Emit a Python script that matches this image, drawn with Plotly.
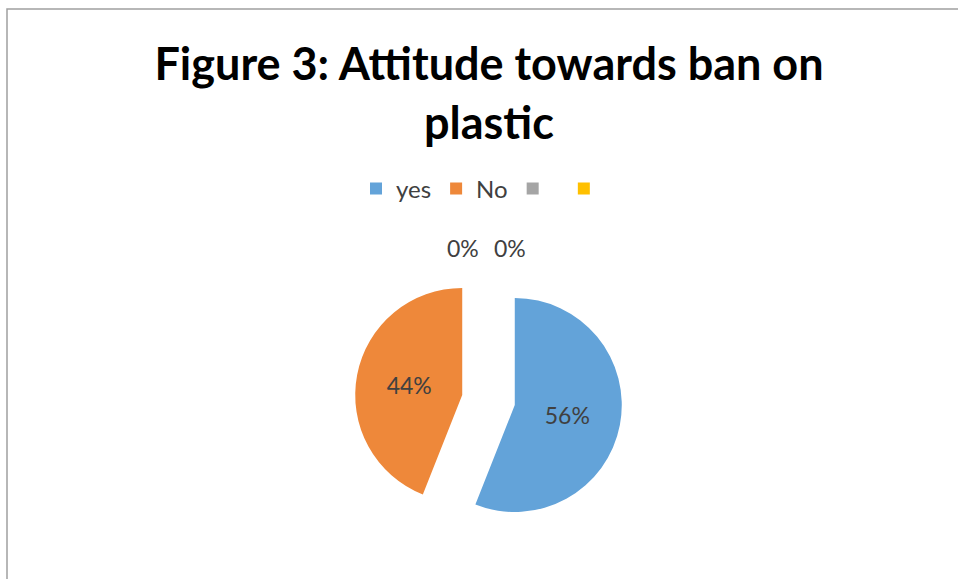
import plotly.graph_objects as go

labels = ["yes", "No", " ", "  "]
values = [56, 44, 0, 0]
colors = ["#63A3D9", "#EE883A", "#A5A5A5", "#FFC000"]
title_text = "Figure 3: Attitude towards ban on<br>plastic"

W, H = 958, 579
fig = go.Figure()
fig.add_trace(go.Pie(
    labels=labels, values=values, sort=False, direction="clockwise", rotation=0,
    marker=dict(colors=colors, line=dict(width=0)),
    pull=[0.25, 0.25, 0.25, 0.25],
    texttemplate="%{percent:.0%}", textposition="inside", insidetextorientation="horizontal",
    textfont=dict(family="Lato", size=23, color="#404040"),
    hoverinfo="label+percent",
    domain=dict(x=[(488.5 - 133.75) / W, (488.5 + 133.75) / W],
                y=[(579 - 400 - 133.75) / H, (579 - 400 + 133.75) / H]),
))

# labels for zero-value slices (placed above the pie like the reference)
total = sum(values)
zero_pos = [(463, 248), (510, 248)]
k = 0
for lab, v in zip(labels, values):
    if v == 0 and k < len(zero_pos):
        px, py = zero_pos[k]
        fig.add_annotation(x=px / W, y=1 - py / H, xref="paper", yref="paper",
                           text=f"{round(100 * v / total)}%", showarrow=False,
                           font=dict(family="Lato", size=23, color="#404040"))
        k += 1

fig.update_layout(
    width=W, height=H,
    margin=dict(l=0, r=0, t=0, b=0),
    paper_bgcolor="white", plot_bgcolor="white",
    title=dict(text=title_text, x=489 / W, xanchor="center", y=1 - 80 / H, yanchor="top",
               font=dict(family="Lato", size=45, color="#000000", weight="bold")),
    legend=dict(orientation="h", x=489 / W, xanchor="center", y=1 - 189 / H, yanchor="middle",
                font=dict(family="Lato", size=24, color="#404040"), traceorder="normal"),
    shapes=[dict(type="rect", xref="paper", yref="paper", x0=7 / W, x1=1.02, y0=-0.02, y1=1 - 9 / H,
                 line=dict(color="#A0A0A0", width=1.5), layer="above")],
)

fig.write_html("out.html", config={"displayModeBar": False},
               post_script="document.body.style.margin='0px';")
